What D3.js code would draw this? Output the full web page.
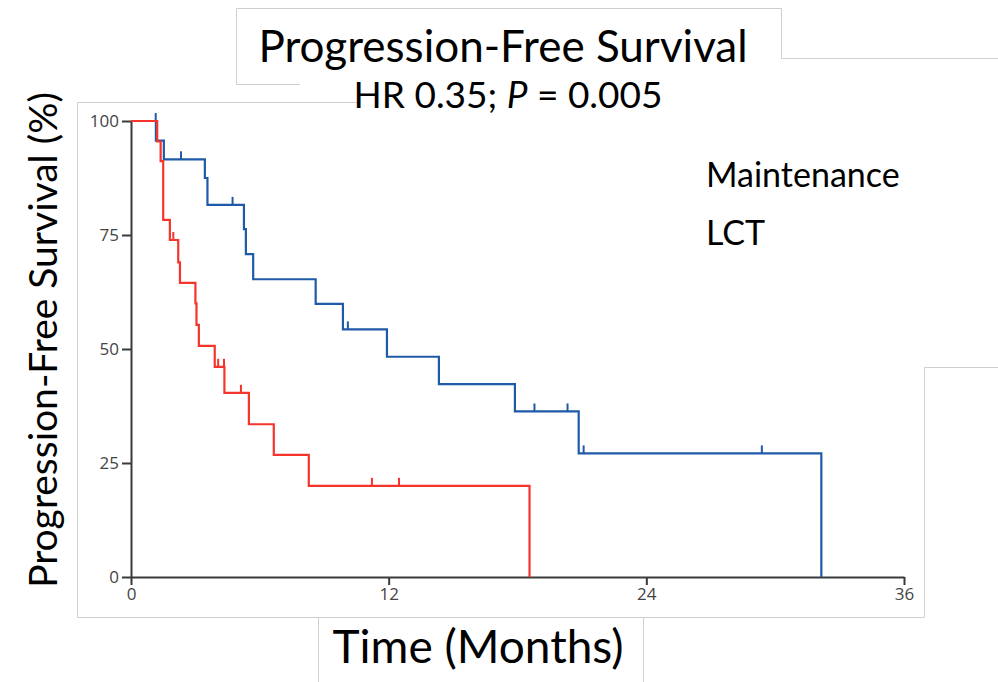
<!DOCTYPE html>
<html>
<head>
<meta charset="utf-8">
<script src="https://cdn.jsdelivr.net/npm/d3@7"></script>
<style>
  body { margin: 0; background: #fff; }
  svg { display: block; }
</style>
</head>
<body>
<svg id="graph" width="998" height="682"></svg>
<script>
// Kaplan-Meier steps: time (months) and survival (%) after each drop
var maintTime = [0, 1.16, 1.53, 3.44, 3.56, 5.26, 5.35, 5.69, 8.6, 9.87, 11.92, 14.34, 17.88, 20.85, 32.15];
var maintSurv = [100, 95.7, 91.6, 87.5, 81.6, 76.3, 70.8, 65.3, 59.9, 54.3, 48.3, 42.3, 36.3, 27.1, 0];
var maintCensor = [1.15, 2.33, 4.73, 10.1, 18.79, 20.33, 21.08, 29.38];

var lctTime = [0, 1.22, 1.38, 1.5, 1.81, 2.2, 2.28, 3.0, 3.05, 3.16, 3.9, 4.35, 5.49, 6.65, 8.28, 18.56];
var lctSurv = [100, 95.5, 91.2, 78.3, 73.9, 69.0, 64.5, 60.0, 55.3, 50.7, 46.1, 40.4, 33.5, 26.8, 20.0, 0];
var lctCensor = [1.97, 4.06, 4.33, 5.12, 11.22, 12.48];

var xTicks = [0, 12, 24, 36];
var yTicks = [0, 25, 50, 75, 100];

var svg = d3.select("#graph");

// scales
var x = d3.scaleLinear().domain([0, 36]).range([131, 904]);
var y = d3.scaleLinear().domain([0, 100]).range([577, 121]);

// light grey frame edges left over from the pasted images
var frame = svg.append("g").attr("fill", "none").attr("stroke", "#cfcfcf").attr("stroke-width", 1);
frame.append("path").attr("d", "M77.5,617.5V102.5H360");
frame.append("path").attr("d", "M77.5,617.5H924.5V367.5H998");
frame.append("path").attr("d", "M318.5,682V617.5");
frame.append("path").attr("d", "M643.5,682V617.5");
frame.append("path").attr("d", "M236.5,84.5V8.5H781.5V58.5H998");
frame.append("path").attr("d", "M236.5,84.5H300");

// axes
var xAxis = d3.axisBottom(x).tickValues(xTicks).tickSize(8).tickSizeOuter(0).tickPadding(3);
var yAxis = d3.axisLeft(y).tickValues(yTicks).tickSize(9).tickSizeOuter(0).tickPadding(3);

svg.append("g").attr("class", "axis").attr("transform", "translate(0," + y(0) + ")").call(xAxis);
svg.append("g").attr("class", "axis").attr("transform", "translate(" + x(0) + ",0)").call(yAxis);

svg.selectAll(".axis path, .axis line").attr("stroke", "#3a3a3a").attr("stroke-width", 2);
svg.selectAll(".axis text").attr("fill", "#444").style("font-family", "'Open Sans', sans-serif").style("font-size", "17px");

// step line for one curve
function stepPoints(times, surv) {
    var pts = [];
    for (var i = 0; i < times.length; ++i) pts.push([times[i], surv[i]]);
    return pts;
}
function survAt(times, surv, t) {
    var s = surv[0];
    for (var i = 0; i < times.length; ++i) if (times[i] <= t) s = surv[i];
    return s;
}

var line = d3.line().x(p => x(p[0])).y(p => y(p[1])).curve(d3.curveStepAfter);

function drawCurve(times, surv, censor, color) {
    var g = svg.append("g");
    g.append("path").datum(stepPoints(times, surv))
        .attr("fill", "none")
        .attr("stroke", color)
        .attr("stroke-width", 2.2)
        .attr("d", line);
    g.selectAll("line").data(censor).enter().append("line")
        .attr("x1", t => x(t)).attr("x2", t => x(t))
        .attr("y1", t => y(survAt(times, surv, t)))
        .attr("y2", t => y(survAt(times, surv, t)) - 8)
        .attr("stroke", color)
        .attr("stroke-width", 2);
}

drawCurve(maintTime, maintSurv, maintCensor, "#1f5aa8");
drawCurve(lctTime, lctSurv, lctCensor, "#f5352c");

// texts
var font = "Lato, 'Open Sans', sans-serif";
svg.append("text").attr("x", 503).attr("y", 62).attr("text-anchor", "middle")
    .style("font-family", font).style("font-size", "44px").attr("fill", "#000")
    .text("Progression-Free Survival");

var hr = svg.append("text").attr("x", 508).attr("y", 108).attr("text-anchor", "middle")
    .style("font-family", font).style("font-size", "37px").attr("fill", "#000");
hr.append("tspan").text("HR 0.35; ");
hr.append("tspan").style("font-style", "italic").text("P");
hr.append("tspan").text(" = 0.005");

svg.append("text").attr("x", 706).attr("y", 187)
    .style("font-family", font).style("font-size", "34px").attr("fill", "#000")
    .text("Maintenance");
svg.append("text").attr("x", 706).attr("y", 245)
    .style("font-family", font).style("font-size", "34px").attr("fill", "#000")
    .text("LCT");

svg.append("text").attr("x", 478).attr("y", 663).attr("text-anchor", "middle")
    .style("font-family", font).style("font-size", "46px").attr("fill", "#000")
    .text("Time (Months)");

svg.append("text").attr("transform", "translate(57,340) rotate(-90)").attr("text-anchor", "middle")
    .style("font-family", font).style("font-size", "39px").attr("fill", "#000")
    .text("Progression-Free Survival (%)");
</script>
</body>
</html>
